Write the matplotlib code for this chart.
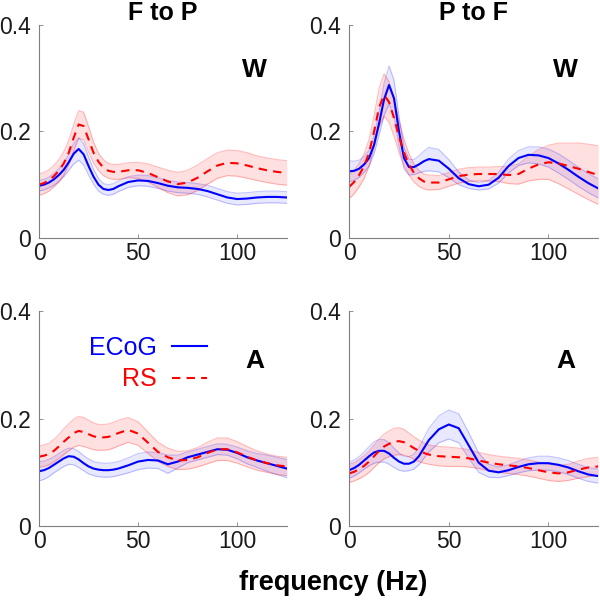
import numpy as np
import matplotlib
matplotlib.use("Agg")
import matplotlib.pyplot as plt
from matplotlib.lines import Line2D

plt.rcParams['font.family'] = ['Liberation Sans', 'DejaVu Sans']

# frequency grid (Hz)
freq = [0, 2.5, 5, 7.5, 10, 12.5, 15, 17.5, 20, 22.5, 25, 27.5, 30, 32.5, 35, 37.5, 40,
        45, 50, 55, 60, 65, 70, 75, 80, 85, 90, 95, 100, 105, 110, 115, 120, 125]

# F to P, W
ftp_w_ecog = [0.098, 0.100, 0.104, 0.110, 0.118, 0.128, 0.142, 0.158, 0.167, 0.157, 0.135, 0.115,
              0.100, 0.092, 0.090, 0.092, 0.097, 0.105, 0.108, 0.107, 0.103, 0.098, 0.095, 0.094,
              0.092, 0.088, 0.082, 0.076, 0.073, 0.074, 0.076, 0.077, 0.077, 0.076]
ftp_w_ecog_err = [0.010, 0.010, 0.010, 0.011, 0.012, 0.013, 0.015, 0.019, 0.021, 0.020, 0.017, 0.014,
                  0.012, 0.010, 0.010, 0.010, 0.010, 0.010, 0.010, 0.010, 0.010, 0.010, 0.010, 0.010,
                  0.010, 0.011, 0.011, 0.011, 0.011, 0.011, 0.011, 0.011, 0.011, 0.011]
ftp_w_rs = [0.100, 0.103, 0.108, 0.116, 0.126, 0.140, 0.160, 0.188, 0.213, 0.210, 0.185, 0.160,
            0.143, 0.132, 0.126, 0.124, 0.124, 0.127, 0.127, 0.122, 0.114, 0.106, 0.101, 0.104,
            0.113, 0.125, 0.136, 0.141, 0.140, 0.136, 0.131, 0.127, 0.124, 0.122]
ftp_w_rs_err = [0.020, 0.020, 0.020, 0.020, 0.021, 0.022, 0.023, 0.025, 0.026, 0.026, 0.024, 0.020,
                0.016, 0.015, 0.014, 0.014, 0.014, 0.014, 0.015, 0.017, 0.019, 0.021, 0.022, 0.023,
                0.024, 0.024, 0.024, 0.024, 0.024, 0.024, 0.023, 0.023, 0.023, 0.023]

# P to F, W
ptf_w_ecog = [0.125, 0.126, 0.130, 0.138, 0.150, 0.175, 0.215, 0.260, 0.287, 0.262, 0.200, 0.150,
              0.133, 0.133, 0.138, 0.144, 0.148, 0.145, 0.130, 0.112, 0.101, 0.097, 0.100, 0.113,
              0.135, 0.150, 0.156, 0.155, 0.150, 0.140, 0.128, 0.115, 0.103, 0.093]
ptf_w_ecog_err = [0.020, 0.018, 0.016, 0.015, 0.015, 0.017, 0.022, 0.030, 0.036, 0.034, 0.028, 0.020,
                  0.015, 0.014, 0.016, 0.019, 0.022, 0.021, 0.017, 0.012, 0.008, 0.007, 0.008, 0.010,
                  0.013, 0.014, 0.015, 0.016, 0.017, 0.018, 0.018, 0.018, 0.018, 0.018]
ptf_w_rs = [0.096, 0.105, 0.118, 0.135, 0.160, 0.200, 0.245, 0.268, 0.255, 0.225, 0.190, 0.160,
            0.138, 0.122, 0.112, 0.106, 0.104, 0.104, 0.110, 0.116, 0.119, 0.120, 0.120, 0.120,
            0.118, 0.120, 0.130, 0.138, 0.142, 0.140, 0.135, 0.130, 0.124, 0.118]
ptf_w_rs_err = [0.022, 0.022, 0.022, 0.023, 0.025, 0.030, 0.036, 0.040, 0.038, 0.034, 0.030, 0.025,
                0.020, 0.017, 0.015, 0.014, 0.014, 0.013, 0.013, 0.013, 0.013, 0.013, 0.013, 0.014,
                0.016, 0.019, 0.023, 0.028, 0.032, 0.038, 0.043, 0.048, 0.052, 0.055]

# F to P, A
ftp_a_ecog = [0.102, 0.104, 0.108, 0.114, 0.120, 0.126, 0.130, 0.129, 0.124, 0.117, 0.111, 0.107,
              0.105, 0.104, 0.104, 0.105, 0.107, 0.113, 0.120, 0.123, 0.122, 0.115, 0.120, 0.128,
              0.133, 0.138, 0.143, 0.142, 0.136, 0.128, 0.122, 0.117, 0.112, 0.107]
ftp_a_ecog_err = [0.018, 0.017, 0.016, 0.015, 0.015, 0.015, 0.015, 0.015, 0.015, 0.014, 0.014, 0.013,
                  0.013, 0.013, 0.013, 0.013, 0.013, 0.014, 0.015, 0.015, 0.015, 0.017, 0.012, 0.010,
                  0.010, 0.010, 0.010, 0.010, 0.011, 0.012, 0.013, 0.015, 0.016, 0.017]
ftp_a_rs = [0.129, 0.131, 0.134, 0.140, 0.148, 0.157, 0.165, 0.173, 0.177, 0.175, 0.171, 0.167,
            0.165, 0.165, 0.166, 0.169, 0.173, 0.179, 0.172, 0.155, 0.138, 0.128, 0.122, 0.123,
            0.128, 0.136, 0.143, 0.143, 0.137, 0.129, 0.122, 0.117, 0.113, 0.111]
ftp_a_rs_err = [0.020, 0.020, 0.020, 0.021, 0.022, 0.024, 0.025, 0.026, 0.027, 0.027, 0.026, 0.025,
                0.024, 0.024, 0.024, 0.024, 0.024, 0.023, 0.022, 0.020, 0.018, 0.017, 0.017, 0.017,
                0.018, 0.020, 0.021, 0.021, 0.020, 0.019, 0.018, 0.017, 0.017, 0.017]

# P to F, A
ptf_a_ecog = [0.104, 0.108, 0.114, 0.122, 0.130, 0.137, 0.140, 0.140, 0.135, 0.127, 0.120, 0.116,
              0.116, 0.120, 0.130, 0.145, 0.160, 0.180, 0.189, 0.182, 0.150, 0.118, 0.103, 0.100,
              0.104, 0.110, 0.115, 0.117, 0.117, 0.114, 0.109, 0.102, 0.096, 0.093]
ptf_a_ecog_err = [0.015, 0.015, 0.015, 0.016, 0.018, 0.020, 0.021, 0.021, 0.020, 0.018, 0.016, 0.014,
                  0.013, 0.014, 0.016, 0.019, 0.022, 0.025, 0.027, 0.027, 0.024, 0.018, 0.012, 0.010,
                  0.010, 0.011, 0.012, 0.013, 0.013, 0.013, 0.013, 0.013, 0.013, 0.013]
ptf_a_rs = [0.098, 0.101, 0.106, 0.112, 0.120, 0.130, 0.140, 0.148, 0.153, 0.157, 0.158, 0.156,
            0.151, 0.145, 0.140, 0.136, 0.133, 0.130, 0.129, 0.128, 0.126, 0.122, 0.118, 0.115,
            0.113, 0.111, 0.108, 0.104, 0.100, 0.098, 0.100, 0.105, 0.109, 0.111]
ptf_a_rs_err = [0.017, 0.017, 0.018, 0.019, 0.020, 0.021, 0.022, 0.023, 0.024, 0.025, 0.025, 0.024,
                0.022, 0.021, 0.020, 0.019, 0.018, 0.018, 0.018, 0.017, 0.016, 0.015, 0.015, 0.015,
                0.015, 0.015, 0.015, 0.015, 0.015, 0.015, 0.015, 0.016, 0.017, 0.017]

titles = ["F to P", "P to F"]
row_labels = ["W", "A"]

panels = [
    (ftp_w_ecog, ftp_w_ecog_err, ftp_w_rs, ftp_w_rs_err),
    (ptf_w_ecog, ptf_w_ecog_err, ptf_w_rs, ptf_w_rs_err),
    (ftp_a_ecog, ftp_a_ecog_err, ftp_a_rs, ftp_a_rs_err),
    (ptf_a_ecog, ptf_a_ecog_err, ptf_a_rs, ptf_a_rs_err),
]

# axes boxes [left, bottom, width, height] in figure fraction
boxes = [
    [0.065, 0.606, 0.413, 0.353],
    [0.582, 0.606, 0.415, 0.353],
    [0.065, 0.129, 0.413, 0.356],
    [0.582, 0.129, 0.415, 0.356],
]

blue = (0, 0, 1)
red = (1, 0, 0)

fig = plt.figure(figsize=(6.0, 6.04), dpi=100)
f = np.array(freq)

for i, (ecog, ecog_err, rs, rs_err) in enumerate(panels):
    ax = fig.add_axes(boxes[i])
    ecog = np.array(ecog); ecog_err = np.array(ecog_err)
    rs = np.array(rs); rs_err = np.array(rs_err)

    # shaded error bands
    ax.fill_between(f, ecog - ecog_err, ecog + ecog_err, color=blue, alpha=0.09, lw=0)
    ax.plot(f, ecog - ecog_err, color=blue, alpha=0.22, lw=0.8)
    ax.plot(f, ecog + ecog_err, color=blue, alpha=0.22, lw=0.8)
    ax.fill_between(f, rs - rs_err, rs + rs_err, color=red, alpha=0.12, lw=0)
    ax.plot(f, rs - rs_err, color=red, alpha=0.25, lw=0.8)
    ax.plot(f, rs + rs_err, color=red, alpha=0.25, lw=0.8)

    ax.plot(f, ecog, color=blue, lw=1.5, label="ECoG")
    ax.plot(f, rs, color=red, lw=1.5, linestyle=(0, (4, 3)), label="RS")

    ax.set_xlim(0, 125)
    ax.set_ylim(0, 0.4)
    ax.set_xticks([0, 50, 100])
    ax.set_yticks([0, 0.2, 0.4])
    ax.set_yticklabels(["0", "0.2", "0.4"])
    for side in ["top", "right"]:
        ax.spines[side].set_visible(False)
    for side in ["left", "bottom"]:
        ax.spines[side].set_color("#7f7f7f")
        ax.spines[side].set_linewidth(0.8)
    ax.tick_params(direction="in", length=3, width=0.6, color="#7f7f7f",
                   labelsize=16.5, labelcolor="#1a1a1a")
    ax.tick_params(axis="y", pad=6)
    ax.tick_params(axis="x", pad=3)

    ax.text(0.87, 0.79 if i < 2 else 0.77, row_labels[i // 2], transform=ax.transAxes,
            fontsize=19, fontweight="bold", ha="center", va="center")
    if i < 2:
        ax.set_title(titles[i], fontsize=18, fontweight="bold", pad=2)

    if i == 2:
        handles = [Line2D([], [], color=blue, lw=1.5),
                   Line2D([], [], color=red, lw=1.5, linestyle=(0, (4, 3)))]
        leg = ax.legend(handles, ["ECoG", "RS"], loc="center", bbox_to_anchor=(0.44, 0.755),
                        frameon=False, markerfirst=False, fontsize=18, handlelength=1.4,
                        handletextpad=0.6, labelspacing=0.3)
        for txt, col in zip(leg.get_texts(), [blue, red]):
            txt.set_color(col)

fig.text(0.555, 0.035, "frequency (Hz)", fontsize=19.5, fontweight="bold",
         ha="center", va="center")

fig.savefig("out.png", dpi=100)
